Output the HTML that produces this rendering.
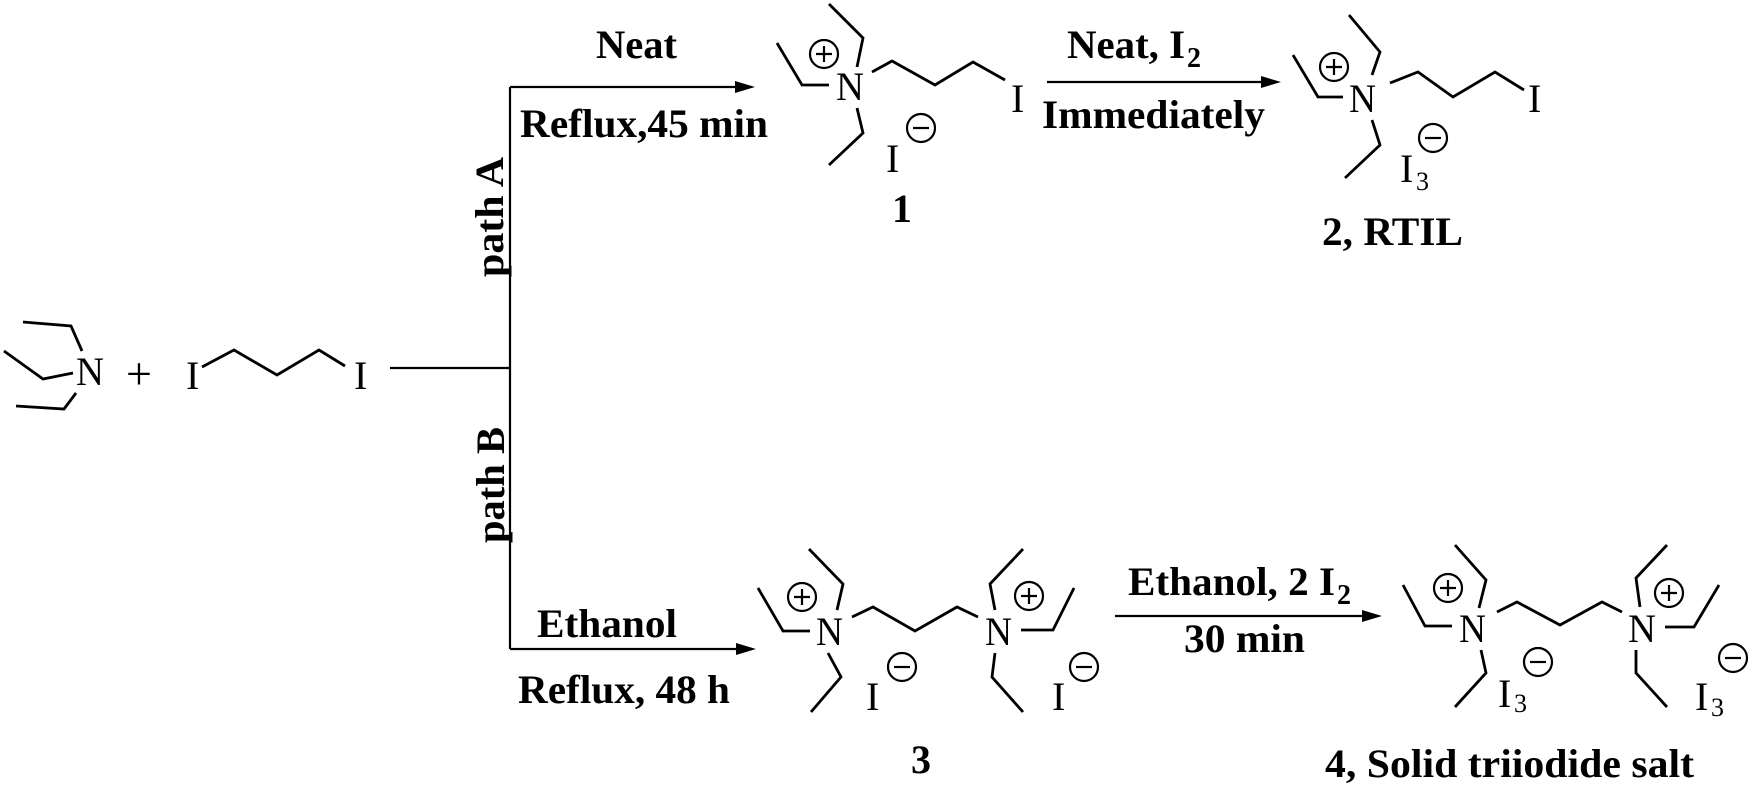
<!DOCTYPE html>
<html><head><meta charset="utf-8"><style>
html,body{margin:0;padding:0;background:#fff;}
svg{display:block;}
.b{fill:none;stroke:#000;stroke-width:2.8;stroke-linejoin:miter;}
.c{fill:none;stroke:#000;stroke-width:2.2;}
.t{font-family:"Liberation Serif",serif;font-size:40px;fill:#000;}
.l{font-family:"Liberation Serif",serif;font-size:40px;font-weight:bold;fill:#000;}
</style></head><body>
<svg width="1751" height="787" viewBox="0 0 1751 787" xmlns="http://www.w3.org/2000/svg">
<defs>
<g id="plus"><circle class="c" cx="0" cy="0" r="14"/><path class="c" d="M-8 0H8M0 -8V8"/></g>
<g id="minus"><circle class="c" cx="0" cy="0" r="14"/><path class="c" d="M-8 0H8"/></g>
</defs>

<!-- triethylamine -->
<path class="b" d="M23 322L71 326L82 351M4 351L43 379L73 373M76 393L64 409L16 406"/>
<text class="t" x="76" y="385" textLength="28" lengthAdjust="spacingAndGlyphs">N</text>
<text class="t" x="126" y="389" style="font-size:46px">+</text>
<!-- diiodopropane -->
<text class="t" x="186" y="389">I</text>
<path class="b" d="M202 367L234 350L277 375L319 350L345 366"/>
<text class="t" x="354" y="389">I</text>

<!-- branching lines -->
<path class="b" style="stroke-width:2.2" d="M390 368H510M510 87V649M510 87H745M510 649H746"/>
<path d="M755 87L735 81L735 93Z"/>
<path d="M756 649L736 643L736 655Z"/>

<text class="l" x="596" y="58" textLength="81" lengthAdjust="spacingAndGlyphs">Neat</text>
<text class="l" x="520" y="137" textLength="248" lengthAdjust="spacingAndGlyphs">Reflux,45 min</text>
<text class="l" transform="translate(503,277) rotate(-90)" textLength="120" lengthAdjust="spacingAndGlyphs">path A</text>
<text class="l" transform="translate(504,543) rotate(-90)" textLength="116" lengthAdjust="spacingAndGlyphs">path B</text>
<text class="l" x="537" y="637" textLength="140" lengthAdjust="spacingAndGlyphs">Ethanol</text>
<text class="l" x="518" y="703" textLength="212" lengthAdjust="spacingAndGlyphs">Reflux, 48 h</text>

<!-- compound 1 -->
<path class="b" d="M777 43L802 85L829 85M829 4L863 38L857 67M872 72L892 61L935 85L973 62L1005 80M857 108L863 133L829 165"/>
<text class="t" x="836" y="100" textLength="28" lengthAdjust="spacingAndGlyphs">N</text>
<use href="#plus" x="824" y="54"/>
<text class="t" x="886" y="172">I</text>
<use href="#minus" x="921" y="128"/>
<text class="t" x="1011" y="112">I</text>
<text class="l" x="892" y="222">1</text>

<!-- step 2 arrow -->
<path class="b" style="stroke-width:2.2" d="M1047 82H1270"/>
<path d="M1281 82L1261 76L1261 88Z"/>
<text class="l" x="1067" y="58" textLength="118" lengthAdjust="spacingAndGlyphs">Neat, I</text>
<text class="l" x="1187" y="67" style="font-size:28px">2</text>
<text class="l" x="1042" y="128" textLength="223" lengthAdjust="spacingAndGlyphs">Immediately</text>

<!-- compound 2 -->
<path class="b" d="M1293 55L1318 97L1343 97M1349 15L1380 52L1372 75M1390 83L1418 72L1453 97L1495 72L1524 90M1372 120L1380 145L1345 178"/>
<text class="t" x="1349" y="112" textLength="27" lengthAdjust="spacingAndGlyphs">N</text>
<use href="#plus" x="1334" y="67"/>
<text class="t" x="1528" y="112">I</text>
<text class="t" x="1400" y="182">I</text>
<text class="t" x="1416" y="190" style="font-size:26px">3</text>
<use href="#minus" x="1433" y="138"/>
<text class="l" x="1322" y="245" textLength="141" lengthAdjust="spacingAndGlyphs">2, RTIL</text>

<!-- compound 3 -->
<path class="b" d="M758 588L783 631L810 631M809 549L843 584L837 610M852 617L873 607L915 631L957 607L978 617M1023 549L990 584L995 610M1021 630L1053 630L1074 588M828 653L841 677L811 712M995 653L992 677L1023 712"/>
<text class="t" x="816" y="645" textLength="27" lengthAdjust="spacingAndGlyphs">N</text>
<text class="t" x="985" y="645" textLength="27" lengthAdjust="spacingAndGlyphs">N</text>
<use href="#plus" x="802" y="597"/>
<use href="#plus" x="1029" y="596"/>
<text class="t" x="866" y="710">I</text>
<use href="#minus" x="902" y="667"/>
<text class="t" x="1052" y="710">I</text>
<use href="#minus" x="1084" y="667"/>
<text class="l" x="911" y="773">3</text>

<!-- step 4 arrow -->
<path class="b" style="stroke-width:2.2" d="M1115 616H1372"/>
<path d="M1382 616L1362 610L1362 622Z"/>
<text class="l" x="1128" y="595" textLength="207" lengthAdjust="spacingAndGlyphs">Ethanol, 2 I</text>
<text class="l" x="1337" y="604" style="font-size:28px">2</text>
<text class="l" x="1184" y="652" textLength="121" lengthAdjust="spacingAndGlyphs">30 min</text>

<!-- compound 4 -->
<path class="b" d="M1403 585L1425 626L1452 626M1455 545L1486 580L1479 608M1497 612L1517 602L1560 625L1602 602L1622 612M1667 545L1636 578L1640 607M1665 627L1694 627L1719 585M1481 650L1486 673L1455 707M1636 650L1636 673L1667 707"/>
<text class="t" x="1459" y="642" textLength="27" lengthAdjust="spacingAndGlyphs">N</text>
<text class="t" x="1628" y="642" textLength="28" lengthAdjust="spacingAndGlyphs">N</text>
<use href="#plus" x="1448" y="588"/>
<use href="#plus" x="1669" y="593"/>
<text class="t" x="1498" y="707">I</text>
<text class="t" x="1514" y="712" style="font-size:26px">3</text>
<use href="#minus" x="1538" y="662"/>
<text class="t" x="1695" y="710">I</text>
<text class="t" x="1711" y="716" style="font-size:26px">3</text>
<use href="#minus" x="1733" y="658"/>
<text class="l" x="1325" y="777" textLength="369" lengthAdjust="spacingAndGlyphs">4, Solid triiodide salt</text>
</svg>
</body></html>
